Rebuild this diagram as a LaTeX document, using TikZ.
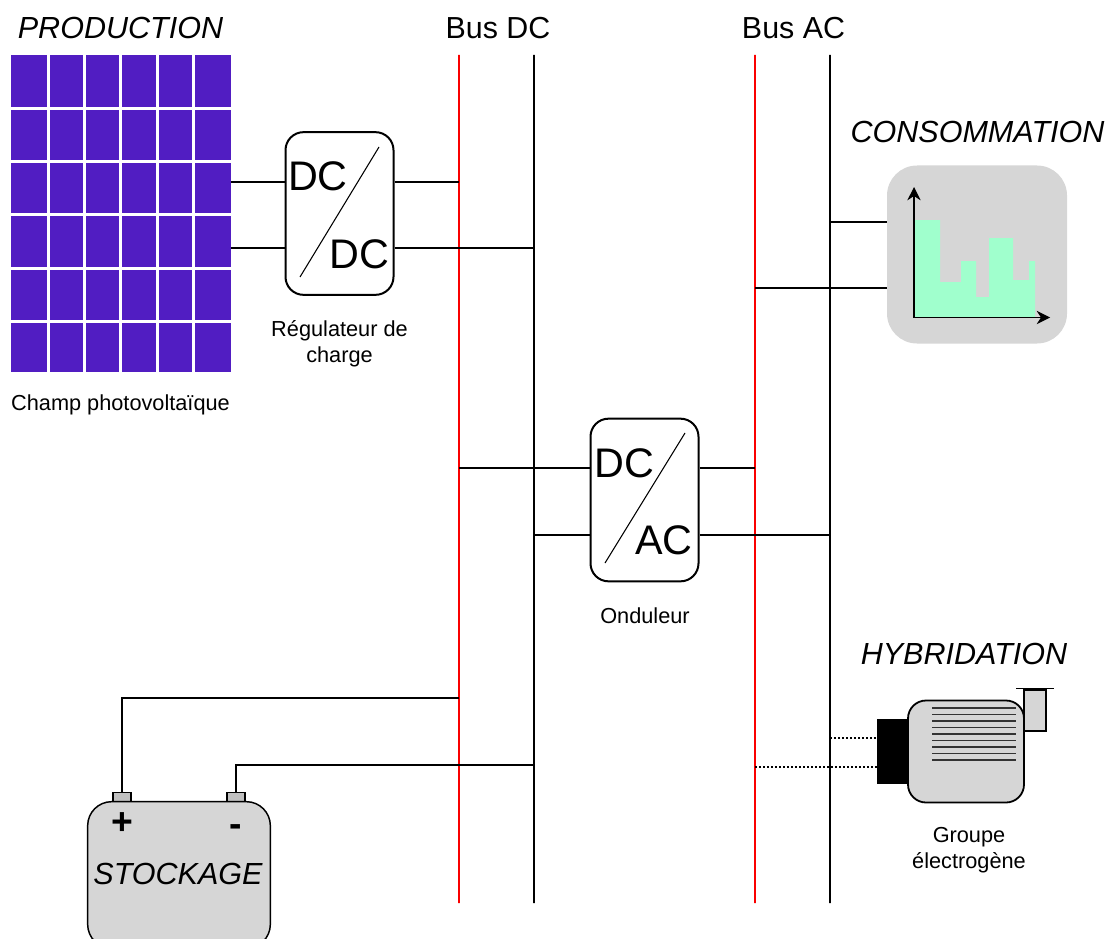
\documentclass[tikz,border=0pt]{standalone}
\usepackage{fontspec}
\setmainfont{Liberation Sans}
\usetikzlibrary{arrows.meta}
\definecolor{panelc}{RGB}{81,29,194}
\definecolor{greyc}{RGB}{214,214,214}
\definecolor{termc}{RGB}{192,192,192}
\definecolor{greenc}{RGB}{160,255,205}
\definecolor{busred}{RGB}{250,0,0}
\tikzset{
  x=0.75pt,y=-0.75pt,
  wire/.style={line width=0.8pt,black},
  dotwire/.style={line width=0.8pt,black,dash pattern=on 1.5pt off 1.5pt},
  busline/.style={minimum width=0pt,minimum height=636pt,inner sep=0pt,line width=1.5pt,draw=#1},
  conv/.style={draw,line width=1.5pt,rounded corners=13.5pt,minimum width=81pt,minimum height=122pt,inner sep=0pt,fill=white},
  big/.style={font=\fontsize{31}{31}\selectfont,inner sep=0pt},
  title/.style={font=\fontsize{22.9}{25}\selectfont\itshape,inner sep=0pt},
  bustitle/.style={font=\fontsize{22.8}{24}\selectfont,inner sep=0pt},
  small/.style={font=\fontsize{16.3}{19.5}\selectfont,align=center,inner sep=0pt},
  grey/.style={fill=greyc,draw=black},
  term/.style={fill=termc,draw=black,line width=0.9pt,minimum width=13.5pt,minimum height=7pt,inner sep=0pt},
  sign/.style={font=\fontsize{28}{28}\selectfont\bfseries,inner sep=0pt},
  axis/.style={line width=0.9pt,-{Stealth[length=10pt,width=10pt]}},
}
\begin{document}
\begin{tikzpicture}
\useasboundingbox (0,0) rectangle (1109,938);
% PV panel
\foreach \xa/\xb in {11/47,50/83,86/119,122/156,159/192,195/231}
  \foreach \ya/\yb in {55/107,110/160,163/213,216/267,270/320,323/372}
    \fill[panelc] (\xa,\ya) rectangle (\xb,\yb);
\coordinate (panelE1) at (231,182);
\coordinate (panelE2) at (231,248);
% buses
\node[busline=busred] (dcp) at (459,479) {};
\node[busline=black] (dcn) at (534,479) {};
\node[busline=busred] (acp) at (755,479) {};
\node[busline=black] (acn) at (830,479) {};
% converters
\node[conv] (reg) at (339.5,213.5) {};
\node[conv] (ond) at (644.5,500) {};
\draw[line width=0.8pt] (379,147) -- (300,277);
\draw[line width=0.8pt] (685,433) -- (605,563);
\node[big] (regA) at (318,176) {DC};
\node[big] (regB) at (359.5,254) {DC};
\node[big] (ondA) at (624,463) {DC};
\node[big] (ondB) at (664,540) {AC};
% consumption
\node[fill=greyc,rounded corners=22.5pt,minimum width=135pt,minimum height=133.5pt,inner sep=0pt] (cons) at (977,254.5) {};
\fill[greenc] (914,220) -- (940,220) -- (940,282) -- (961,282) -- (961,261) -- (976,261) -- (976,297) -- (989,297) -- (989,238) -- (1013,238) -- (1013,280) -- (1029,280) -- (1029,261) -- (1035,261) -- (1035,317) -- (914,317) -- cycle;
\draw[axis] (914,317.5) -- (914,187);
\draw[axis] (914,317.5) -- (1050,317.5);
% generator
\node[fill=black,minimum width=24pt,minimum height=48.75pt,inner sep=0pt] (alt) at (893,751) {};
\node[grey,line width=1.35pt,minimum width=16.5pt,minimum height=31pt,inner sep=0pt,anchor=north] (stack) at (1035,689) {};
\node[grey,line width=1.35pt,rounded corners=13.5pt,minimum width=87pt,minimum height=76.5pt,inner sep=0pt] (gen) at (966,751.5) {};
\foreach \y in {708,714.5,721,727.5,734,740.5,747,753.5,760}
  \draw[line width=0.9pt,black!80] (932,\y) -- (1016,\y);
\draw[line width=1pt] (1016,688.5) -- (1054,688.5);
% battery
\node[term] (tplus) at (122,797.5) {};
\node[term] (tminus) at (236,797.5) {};
\node[grey,line width=1.1pt,rounded corners=18pt,minimum width=137pt,minimum height=110pt,inner sep=0pt] (batt) at (179,875) {};
\node[sign] (plus) at (122,824) {+};
\node[sign] (minus) at (236,831) {-};
\node[title] (stock) at (178,874) {STOCKAGE};
% wires
\draw[wire] (panelE1) -- (reg.west |- panelE1);
\draw[wire] (panelE2) -- (reg.west |- panelE2);
\draw[wire] (reg.east |- panelE1) -- (dcp.center |- panelE1);
\draw[wire] (reg.east |- panelE2) -- (dcn.center |- panelE2);
\coordinate (o1) at (0,468);
\coordinate (o2) at (0,535);
\draw[wire] (dcp.center |- o1) -- (ond.west |- o1);
\draw[wire] (dcn.center |- o2) -- (ond.west |- o2);
\draw[wire] (ond.east |- o1) -- (acp.center |- o1);
\draw[wire] (ond.east |- o2) -- (acn.center |- o2);
\coordinate (c1) at (0,222);
\coordinate (c2) at (0,288);
\draw[wire] (acn.center |- c1) -- (cons.west |- c1);
\draw[wire] (acp.center |- c2) -- (cons.west |- c2);
\coordinate (g1) at (0,738);
\coordinate (g2) at (0,767);
\draw[dotwire] (acn.center |- g1) -- (alt.west |- g1);
\draw[dotwire] (acp.center |- g2) -- (alt.west |- g2);
\coordinate (b1) at (0,698);
\coordinate (b2) at (0,765);
\draw[wire] (tplus.north) |- (dcp.center |- b1);
\draw[wire] (tminus.north) |- (dcn.center |- b2);
% labels
\node[title] (tprod) at (120.5,27.5) {PRODUCTION};
\node[title] (tcons) at (977.5,131.5) {CONSOMMATION};
\node[title] (thyb) at (964,653.5) {HYBRIDATION};
\node[bustitle] (tdc) at (498,28) {Bus DC};
\node[bustitle] (tac) at (793.5,28) {Bus AC};
\node[small] (lpv) at (120.5,405) {Champ photovoltaïque};
\node[small] (lreg) at (339.5,344) {Régulateur de\\charge};
\node[small] (lond) at (645,616) {Onduleur};
\node[small] (lgen) at (969,850) {Groupe\\électrogène};
\end{tikzpicture}
\end{document}
